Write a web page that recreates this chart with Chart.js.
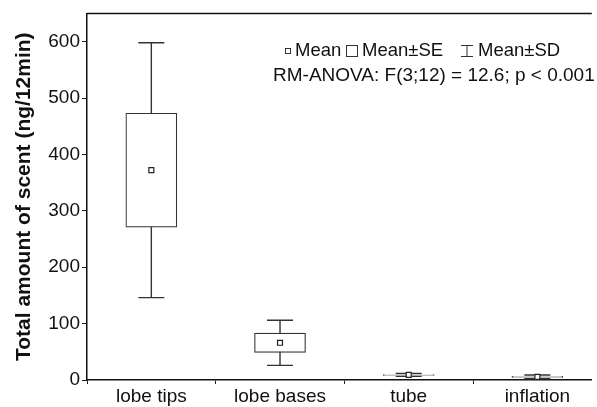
<!DOCTYPE html>
<html>
<head>
<meta charset="utf-8">
<script src="https://cdn.jsdelivr.net/npm/chart.js@4.4.1/dist/chart.umd.min.js"></script>
<style>
html,body{margin:0;padding:0;background:#fff;overflow:hidden}
#wrap{width:597px;height:407px;position:relative}
</style>
</head>
<body>
<div id="wrap"><canvas id="myBox"></canvas></div>
<script>
let categories = ['lobe tips', 'lobe bases', 'tube', 'inflation']
let means = [372, 66, 9, 5.5]
let se = [101, 17, 0.8, 1]
let sd = [226, 40, 2.5, 3.3]
let yTicks = [0, 100, 200, 300, 400, 500, 600]
let legendLabels = ['Mean', 'Mean\u00b1SE', 'Mean\u00b1SD']
let statText = 'RM-ANOVA: F(3;12) = 12.6; p < 0.001'

const FONT = "'Liberation Sans', Arial, Helvetica, sans-serif"
const LINE = '#333'

// whiskers (mean +/- SD) drawn behind the boxes
const whiskers = {
  id: 'whiskers',
  beforeDatasetsDraw(chart) {
    const {ctx, scales: {x, y}} = chart
    ctx.save()
    ctx.strokeStyle = LINE
    ctx.lineWidth = 1.4
    categories.forEach((c, i) => {
      const px = x.getPixelForValue(i)
      const top = y.getPixelForValue(means[i] + sd[i])
      const bot = y.getPixelForValue(means[i] - sd[i])
      ctx.beginPath()
      ctx.moveTo(px, top); ctx.lineTo(px, bot)
      ctx.moveTo(px - 13, top); ctx.lineTo(px + 13, top)
      ctx.moveTo(px - 13, bot); ctx.lineTo(px + 13, bot)
      ctx.stroke()
    })
    ctx.restore()
  }
}

// top frame line + legend text
const extras = {
  id: 'extras',
  afterDraw(chart) {
    const {ctx, chartArea} = chart
    ctx.save()
    ctx.strokeStyle = '#111'
    ctx.lineWidth = 1.5
    ctx.beginPath()
    ctx.moveTo(chartArea.left, chartArea.top)
    ctx.lineTo(chartArea.right, chartArea.top)
    ctx.stroke()

    ctx.fillStyle = '#111'
    ctx.font = '18.5px ' + FONT
    ctx.textBaseline = 'middle'
    ctx.textAlign = 'left'
    const ly = 51
    ctx.lineWidth = 1
    ctx.strokeStyle = '#333'
    ctx.strokeRect(285.5, 48.5, 5, 5)
    ctx.fillText(legendLabels[0], 295, ly)
    ctx.strokeRect(346.5, 45.5, 11, 11)
    ctx.fillText(legendLabels[1], 362, ly)
    ctx.beginPath()
    ctx.moveTo(461, 45.5); ctx.lineTo(473, 45.5)
    ctx.moveTo(467, 45.5); ctx.lineTo(467, 56.5)
    ctx.moveTo(461, 56.5); ctx.lineTo(473, 56.5)
    ctx.stroke()
    ctx.fillText(legendLabels[2], 478, ly)
    ctx.font = '19px ' + FONT
    ctx.fillText(statText, 273, 76)
    ctx.restore()
  }
}

let cht = document.getElementById('myBox')
let boxChart = new Chart(cht, {
  type: 'bar',
  data: {
    datasets: [{
      label: 'Mean\u00b1SE',
      order: 2,
      data: categories.map((c, i) => ({x: i, y: [means[i] - se[i], means[i] + se[i]]})),
      backgroundColor: '#fff',
      borderColor: LINE,
      borderWidth: 1.2,
      borderSkipped: false,
      barThickness: 51
    }, {
      type: 'scatter',
      label: 'Mean',
      order: 1,
      data: categories.map((c, i) => ({x: i, y: means[i]})),
      pointStyle: 'rect',
      pointRadius: 3.5,
      backgroundColor: '#fff',
      borderColor: '#222',
      borderWidth: 1.2
    }]
  },
  options: {
    animation: false,
    responsive: true,
    maintainAspectRatio: false,
    devicePixelRatio: 1,
    layout: {padding: {top: 13, left: 0, right: 0, bottom: 0}},
    plugins: {legend: {display: false}, tooltip: {enabled: false}},
    scales: {
      x: {
        type: 'linear',
        min: -0.5,
        max: 3.423,
        offset: false,
        afterBuildTicks: (s) => { s.ticks = categories.map((c, i) => ({value: i})) },
        afterFit: (s) => { s.height = 27 },
        ticks: {
          callback: (v) => categories[v],
          color: '#111',
          padding: 3,
          maxRotation: 0,
          font: {family: FONT, size: 19, lineHeight: 1}
        },
        grid: {display: true, drawOnChartArea: false, drawTicks: true, tickLength: 4, color: '#222'},
        border: {display: true, color: '#111', width: 1.5}
      },
      y: {
        min: 0,
        max: 650,
        afterBuildTicks: (s) => { s.ticks = yTicks.map(v => ({value: v})) },
        afterFit: (s) => { s.width = 87 },
        ticks: {
          color: '#111',
          padding: 2,
          font: {family: FONT, size: 19}
        },
        grid: {display: true, drawOnChartArea: false, drawTicks: true, tickLength: 5, color: '#222'},
        border: {display: true, color: '#111', width: 1.5},
        title: {
          display: true,
          text: 'Total amount of scent (ng/12min)',
          color: '#111',
          font: {family: FONT, size: 21, weight: 'bold'},
          padding: {top: 12, bottom: 0}
        }
      }
    }
  },
  plugins: [whiskers, extras]
})
</script>
</body>
</html>
